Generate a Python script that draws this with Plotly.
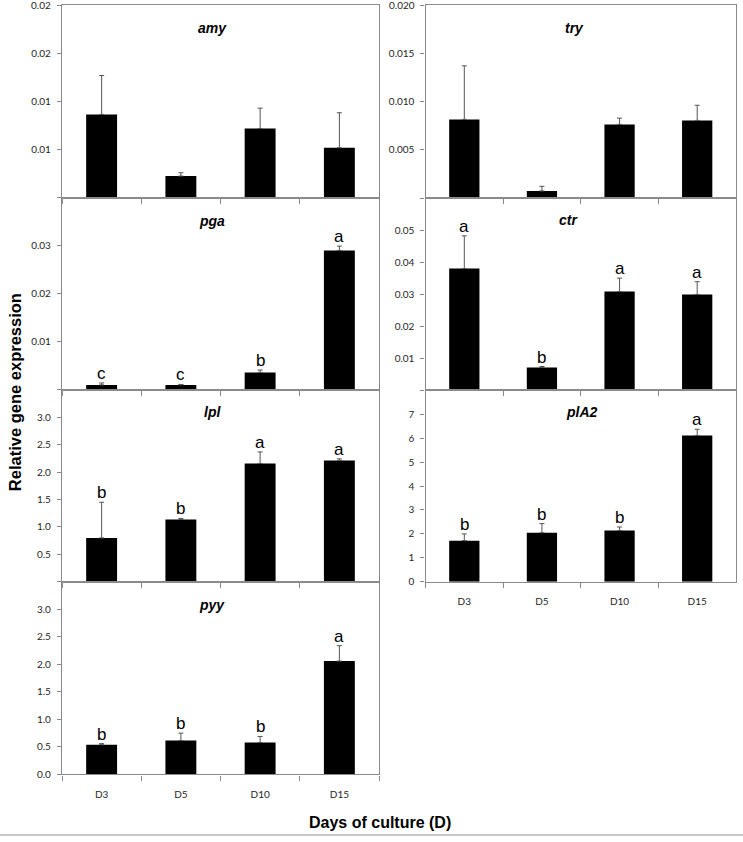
import plotly.graph_objects as go

# ---------------- data ----------------
days = ["D3", "D5", "D10", "D15"]

amy_vals = [0.00866, 0.00224, 0.00718, 0.00519]
amy_err = [0.00405, 0.00034, 0.00213, 0.00364]

try_vals = [0.00817, 0.00074, 0.00765, 0.00806]
try_err = [0.00556, 0.00048, 0.00065, 0.00158]

pga_vals = [0.0010, 0.0010, 0.0036, 0.0290]
pga_err = [0.0004, 0.0001, 0.0005, 0.0009]
pga_letters = ["c", "c", "b", "a"]

ctr_vals = [0.0380, 0.0071, 0.0308, 0.0299]
ctr_err = [0.0102, 0.0003, 0.0042, 0.0040]
ctr_letters = ["a", "b", "a", "a"]

lpl_vals = [0.80, 1.135, 2.156, 2.21]
lpl_err = [0.65, 0.02, 0.21, 0.03]
lpl_letters = ["b", "b", "a", "a"]

pla2_vals = [1.72, 2.05, 2.14, 6.11]
pla2_err = [0.28, 0.38, 0.15, 0.26]
pla2_letters = ["b", "b", "b", "a"]

pyy_vals = [0.54, 0.616, 0.58, 2.06]
pyy_err = [0.02, 0.134, 0.11, 0.28]
pyy_letters = ["b", "b", "b", "a"]

# ---------------- layout helpers ----------------
W, H = 743, 842


def fx(p):
    return p / W


def fy(p):
    return 1 - p / H


COLS = {0: (62, 379), 1: (425.5, 736)}

# "edge" = label for the tick at the very top of the range (drawn as annotation
# because plotly drops tick labels that touch the page edge)
panels = [
    dict(title="amy", vals=amy_vals, err=amy_err, letters=None, col=0, top=5.5, bot=199,
         yr=[0, 0.02], tv=[0, 0.005, 0.01, 0.015, 0.02], tt=["", "0.01", "0.01", "0.02", ""],
         edge=(0.02, "0.02"), xl=False, tx=212, ty=28),
    dict(title="try", vals=try_vals, err=try_err, letters=None, col=1, top=5.5, bot=199.5,
         yr=[0, 0.02], tv=[0, 0.005, 0.01, 0.015, 0.02], tt=["", "0.005", "0.010", "0.015", ""],
         edge=(0.02, "0.020"), xl=False, tx=574, ty=28),
    dict(title="pga", vals=pga_vals, err=pga_err, letters=pga_letters, col=0, top=199, bot=392.5,
         yr=[0, 0.04], tv=[0, 0.01, 0.02, 0.03, 0.04], tt=["", "0.01", "0.02", "0.03", ""],
         edge=None, xl=False, tx=212, ty=223),
    dict(title="ctr", vals=ctr_vals, err=ctr_err, letters=ctr_letters, col=1, top=199.5, bot=393,
         yr=[0, 0.06], tv=[0, 0.01, 0.02, 0.03, 0.04, 0.05, 0.06],
         tt=["", "0.01", "0.02", "0.03", "0.04", "0.05", ""],
         edge=None, xl=False, tx=568, ty=222),
    dict(title="lpl", vals=lpl_vals, err=lpl_err, letters=lpl_letters, col=0, top=392.5, bot=586,
         yr=[0, 3.5], tv=[0, 0.5, 1.0, 1.5, 2.0, 2.5, 3.0, 3.5],
         tt=["", "0.5", "1.0", "1.5", "2.0", "2.5", "3.0", ""],
         edge=None, xl=False, tx=212, ty=415),
    dict(title="plA2", vals=pla2_vals, err=pla2_err, letters=pla2_letters, col=1, top=393, bot=586,
         yr=[0, 8], tv=[0, 1, 2, 3, 4, 5, 6, 7, 8], tt=["0", "1", "2", "3", "4", "5", "6", "7", ""],
         edge=None, xl=True, tx=582, ty=415),
    dict(title="pyy", vals=pyy_vals, err=pyy_err, letters=pyy_letters, col=0, top=586, bot=780,
         yr=[0, 3.5], tv=[0, 0.5, 1.0, 1.5, 2.0, 2.5, 3.0, 3.5],
         tt=["0.0", "0.5", "1.0", "1.5", "2.0", "2.5", "3.0", ""],
         edge=None, xl=True, tx=212, ty=609),
]

AXIS_COLOR = "#8a8a8a"
TICK_FONT = dict(family="Lato, Carlito, sans-serif", size=10, color="#262626")
LETTER_FONT = dict(family="Liberation Sans, Arial, sans-serif", size=17, color="black")

fig = go.Figure()
annotations = []

for i, p in enumerate(panels, start=1):
    xa = "x" if i == 1 else f"x{i}"
    ya = "y" if i == 1 else f"y{i}"
    xkey = "xaxis" if i == 1 else f"xaxis{i}"
    ykey = "yaxis" if i == 1 else f"yaxis{i}"

    fig.add_trace(go.Bar(
        x=days, y=p["vals"], xaxis=xa, yaxis=ya, width=0.39,
        marker=dict(color="black", line=dict(width=0)),
        error_y=dict(type="data", symmetric=False, array=p["err"],
                     arrayminus=[0] * len(p["err"]),
                     color="#555555", thickness=1, width=2.5),
        showlegend=False, hoverinfo="x+y",
    ))

    x0, x1 = COLS[p["col"]]
    fig.layout[xkey] = dict(
        domain=[fx(x0), fx(x1)], anchor=ya, type="category",
        showline=True, mirror=True, linecolor=AXIS_COLOR, linewidth=1.2,
        ticks="outside", tickson="boundaries", ticklen=5, tickcolor=AXIS_COLOR,
        showticklabels=p["xl"], tickfont=TICK_FONT, ticklabelstandoff=10,
        showgrid=False, zeroline=False, fixedrange=True,
    )
    fig.layout[ykey] = dict(
        domain=[fy(p["bot"]), fy(p["top"])], anchor=xa, range=p["yr"],
        tickmode="array", tickvals=p["tv"], ticktext=p["tt"],
        showline=True, mirror=True, linecolor=AXIS_COLOR, linewidth=1.2,
        ticks="outside", ticklen=4, tickcolor=AXIS_COLOR,
        tickfont=TICK_FONT, ticklabelstandoff=4,
        showgrid=False, zeroline=False, fixedrange=True,
    )

    if p["edge"]:
        ev, et = p["edge"]
        annotations.append(dict(
            text=et, x=fx(x0 - 9), y=ev, xref="paper", yref=ya,
            xanchor="right", yanchor="middle", showarrow=False, font=TICK_FONT,
        ))

    # panel title
    annotations.append(dict(
        text=f"<b><i>{p['title']}</i></b>", x=fx(p["tx"]), y=fy(p["ty"]),
        xref="paper", yref="paper", xanchor="center", yanchor="middle",
        showarrow=False,
        font=dict(family="Liberation Sans, Arial, sans-serif", size=14, color="black"),
    ))

    # significance letters
    if p["letters"]:
        for d, v, e, L in zip(days, p["vals"], p["err"], p["letters"]):
            annotations.append(dict(
                text=L, x=d, y=v + e, xref=xa, yref=ya,
                xanchor="center", yanchor="bottom", yshift=-2,
                showarrow=False, font=LETTER_FONT,
            ))

# axis titles
annotations.append(dict(
    text="<b>Relative gene expression</b>", x=fx(15), y=fy(395),
    xref="paper", yref="paper", xanchor="center", yanchor="middle",
    textangle=-90, showarrow=False,
    font=dict(family="Liberation Sans, Arial, sans-serif", size=16.5, color="black"),
))
annotations.append(dict(
    text="<b>Days of culture (D)</b>", x=fx(380), y=fy(828),
    xref="paper", yref="paper", xanchor="center", yanchor="middle",
    showarrow=False,
    font=dict(family="Liberation Sans, Arial, sans-serif", size=16, color="black"),
))

fig.update_layout(
    width=W, height=H,
    margin=dict(l=0, r=0, t=0, b=0),
    paper_bgcolor="white", plot_bgcolor="white",
    bargap=0.61,
    annotations=annotations,
    shapes=[dict(type="line", xref="paper", yref="paper",
                 x0=0, x1=1, y0=fy(841), y1=fy(841),
                 line=dict(color="#c8c8c8", width=2))],
)

fig.write_html("out.html")
